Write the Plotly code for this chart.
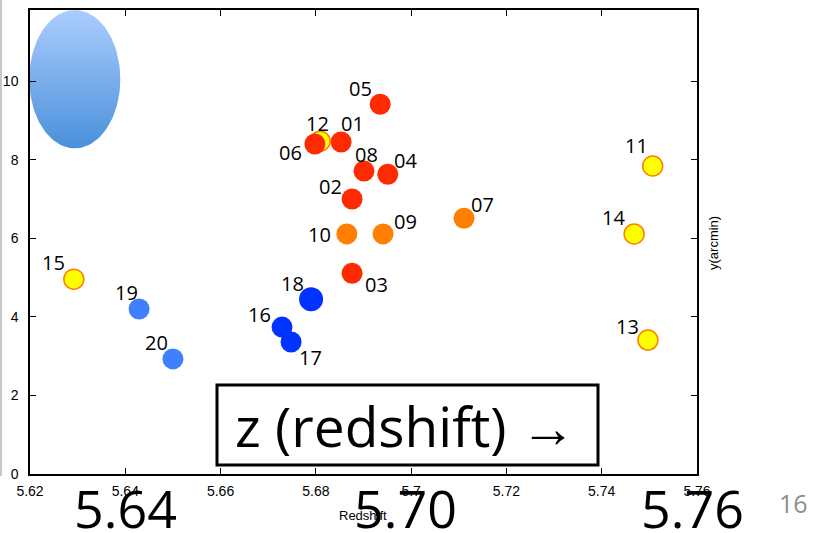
import numpy as np
import plotly.graph_objects as go

# Galaxy positions: redshift (x) and sky offset in arcmin (y)
red_ids = ["05", "01", "06", "08", "04", "02", "03"]
red_z = [5.6935, 5.6853, 5.6798, 5.6901, 5.6951, 5.6876, 5.6876]
red_y = [9.41, 8.45, 8.40, 7.71, 7.63, 7.00, 5.11]

orange_ids = ["10", "09", "07"]
orange_z = [5.6865, 5.6941, 5.7111]
orange_y = [6.11, 6.11, 6.51]

yellow_ids = ["12", "15", "11", "14", "13"]
yellow_z = [5.6809, 5.6292, 5.7507, 5.7468, 5.7497]
yellow_y = [8.47, 4.96, 7.84, 6.11, 3.41]

blue_ids = ["18", "16", "17"]
blue_z = [5.6790, 5.6729, 5.6748]
blue_y = [4.45, 3.74, 3.36]

lblue_ids = ["19", "20"]
lblue_z = [5.6429, 5.6500]
lblue_y = [4.20, 2.93]

x_ticks = [5.62, 5.64, 5.66, 5.68, 5.70, 5.72, 5.74, 5.76]
x_tick_text = ["5.62", "5.64", "5.66", "5.68", "5.7", "5.72", "5.74", "5.76"]
y_ticks = [0, 2, 4, 6, 8, 10]
big_labels = ["5.64", "5.70", "5.76"]

# label offsets (pixels) relative to each marker
label_shift = {
    "05": (-20, 16), "12": (-3, 18), "01": (11, 19), "06": (-24, -9),
    "08": (3, 17), "04": (18, 14), "02": (-22, 12), "10": (-27, -1),
    "09": (22, 12), "07": (18, 14), "03": (24, -11), "18": (-19, 16),
    "16": (-23, 13), "17": (19, -16), "19": (-13, 16), "20": (-16, 16),
    "15": (-20, 17), "11": (-16, 20), "14": (-21, 16), "13": (-20, 14),
}

L, R, T, B = 30, 123, 10, 59
W, H = 820, 533
PW, PH = W - L - R, H - T - B


def px(xp):
    return (xp - L) / PW


def py(yp):
    return (H - B - yp) / PH


fig = go.Figure()

# beam ellipse with vertical gradient
ell_cx, ell_cy, ell_rx, ell_ry = 5.6294, 10.05, 0.00955, 1.76
t = np.linspace(0, 2 * np.pi, 121)
fig.add_trace(go.Scatter(
    x=ell_cx + ell_rx * np.cos(t), y=ell_cy + ell_ry * np.sin(t),
    mode="lines", line=dict(width=0), fill="toself",
    fillgradient=dict(type="vertical",
                      colorscale=[[0, "#4a90da"], [1, "#abcdff"]]),
    hoverinfo="skip", showlegend=False,
))


def add_group(zs, ys, color, size=21, line=None):
    fig.add_trace(go.Scatter(
        x=zs, y=ys, mode="markers",
        marker=dict(size=size, color=color,
                    line=line or dict(width=0)),
        showlegend=False, cliponaxis=False,
    ))


add_group(yellow_z, yellow_y, "#ffff00", 20, dict(color="#ff7f00", width=1.5))
add_group(red_z, red_y, "#ff2a00")
add_group(orange_z, orange_y, "#ff7f00")
add_group(blue_z[:1], blue_y[:1], "#0033ff", 24)
add_group(blue_z[1:], blue_y[1:], "#0033ff")
add_group(lblue_z, lblue_y, "#4080ff")

ann = []
for ids, zs, ys in [(red_ids, red_z, red_y), (orange_ids, orange_z, orange_y),
                    (yellow_ids, yellow_z, yellow_y), (blue_ids, blue_z, blue_y),
                    (lblue_ids, lblue_z, lblue_y)]:
    for i, z, y in zip(ids, zs, ys):
        dx, dy = label_shift[i]
        ann.append(dict(x=z, y=y, xref="x", yref="y", text=i, showarrow=False,
                        xshift=dx, yshift=dy,
                        font=dict(family="Open Sans", size=20, color="black")))


def paper_text(text, xc, yc, size, color="black", family="Open Sans", angle=0):
    ann.append(dict(x=px(xc), y=py(yc), xref="paper", yref="paper", text=text,
                    showarrow=False, xanchor="center", yanchor="middle",
                    textangle=angle, font=dict(family=family, size=size, color=color)))


# axis titles
paper_text("Redshift", 363, 515, 13, family="Liberation Sans")
paper_text("y(arcmin)", 713, 243, 13, family="Liberation Sans", angle=-90)

# large redshift callouts
for lab, xc in zip(big_labels, [126, 405, 692]):
    paper_text(lab, xc, 507, 52)

# boxed caption
paper_text("z (redshift) →", 405, 425, 55)

# page number
paper_text("16", 793, 503, 25, color="#8c8c8c")

shapes = [
    dict(type="rect", xref="paper", yref="paper",
         x0=px(217), x1=px(598), y0=py(465), y1=py(385),
         line=dict(color="black", width=3), fillcolor="white", layer="above"),
    dict(type="line", xref="paper", yref="paper",
         x0=px(1), x1=px(1), y0=py(0), y1=py(476),
         line=dict(color="#b4b4b4", width=1.5)),
]

axis_common = dict(showgrid=False, zeroline=False, showline=True, linecolor="black",
                   linewidth=1.5, mirror="ticks", ticks="inside", ticklen=6,
                   tickcolor="black", tickwidth=1, automargin=False)

fig.update_layout(
    width=W, height=H, margin=dict(l=L, r=R, t=T, b=B),
    plot_bgcolor="white", paper_bgcolor="white",
    xaxis=dict(range=[5.62, 5.76], tickvals=x_ticks, ticktext=x_tick_text,
               ticklabelstandoff=3,
               tickfont=dict(family="Liberation Sans", size=14, color="black"),
               **axis_common),
    yaxis=dict(range=[0, 11.81], tickvals=y_ticks, ticklabelstandoff=7,
               tickfont=dict(family="Liberation Sans", size=14, color="black"),
               **axis_common),
    annotations=ann, shapes=shapes,
)

fig.write_html("out.html")
